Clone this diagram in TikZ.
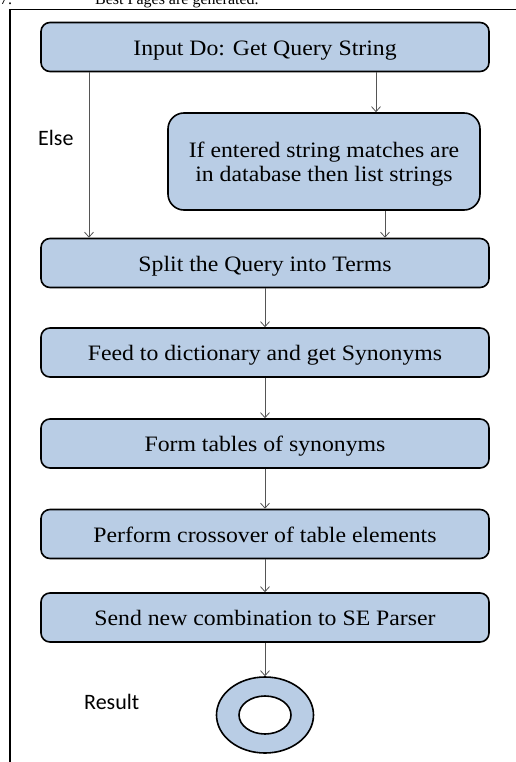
\documentclass[tikz,border=0pt]{standalone}
\usepackage{fontspec}
\setmainfont{Liberation Serif}[FakeStretch=1.08]
\newfontfamily\plainserif{Liberation Serif}
\newfontfamily\labelfont{Carlito}
\usetikzlibrary{arrows.meta,positioning,shapes.geometric}
\definecolor{boxfill}{HTML}{B9CDE5}
\definecolor{linkgray}{HTML}{555555}
\tikzset{
  stepbox/.style={draw=black, line width=1.6pt, fill=boxfill, rounded corners=9pt,
    minimum width=448pt, minimum height=49pt, inner sep=0pt,
    text height=16.5pt, text depth=0pt,
    font=\fontsize{22}{24}\selectfont, align=center},
  link/.style={draw=linkgray, line width=0.8pt,
    -{Straight Barb[length=5pt,width=9pt,line width=0.8pt]}},
  sidelabel/.style={font=\labelfont\fontsize{22}{24}\selectfont, anchor=base west, inner sep=0pt},
  pagetext/.style={anchor=base west, inner sep=0pt, font=\plainserif\fontsize{16}{18}\selectfont},
}
\begin{document}
\begin{tikzpicture}[x=1pt,y=-1pt]
\useasboundingbox (0,0) rectangle (516,762);
% page frame
\draw[line width=1.8pt] (10,762) -- (10,9.5) -- (516,9.5);
% preceding list item, cut by the page edge
\node[pagetext] (itemno) at (0,4.5) {7.};
\node[pagetext] (itemtext) at (95,4.5) {Best Pages are generated.};

% process steps
\node[stepbox] (input) at (265,47) {Input Do: Get Query String};
\node[stepbox, minimum width=312pt, minimum height=97pt, rounded corners=16pt,
  text height=, text depth=0pt] (match) at (324,161.5)
  {If entered string matches are\\in database then list strings};
\node[stepbox] (split) at (265,263) {Split the Query into Terms};
\node[stepbox] (dict) at (265,352.5) {Feed to dictionary and get Synonyms};
\node[stepbox] (tables) at (265,443.5) {Form tables of synonyms};
\node[stepbox] (cross) at (265,534) {Perform crossover of table elements};
\node[stepbox] (send) at (265,617.5) {Send new combination to SE Parser};

% final state
\node[draw=black, line width=1.6pt, fill=boxfill, ellipse, minimum width=97pt, minimum height=76pt, inner sep=0pt] (result) at (265,715) {};
\node[draw=black, line width=1.6pt, fill=white, ellipse, minimum width=52pt, minimum height=38pt, inner sep=0pt] (resultcore) at (265,715) {};

% labels
\node[sidelabel] (elselbl) at (38,146) {Else};
\node[sidelabel] (resultlbl) at (84,709) {Result};

% connectors
\draw[link] (input.south -| 89,0) -- (split.north -| 89,0);
\draw[link] (input.south -| 376,0) -- (match.north -| 376,0);
\draw[link] (match.south -| 385,0) -- (split.north -| 385,0);
\draw[link] (split) -- (dict);
\draw[link] (dict) -- (tables);
\draw[link] (tables) -- (cross);
\draw[link] (cross) -- (send);
\draw[link] (send) -- (result);
\end{tikzpicture}
\end{document}
